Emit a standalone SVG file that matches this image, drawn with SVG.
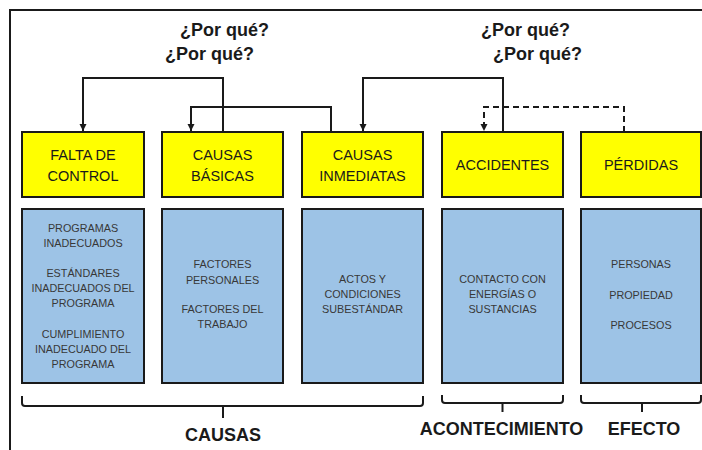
<svg xmlns="http://www.w3.org/2000/svg" width="702" height="450" viewBox="0 0 702 450">
<defs>
<style>
.head{fill:#ffff00;stroke:#1a1a1a;stroke-width:2}
.body{fill:#9dc3e6;stroke:#1a1a1a;stroke-width:2}
.ht{font-family:"Liberation Sans",Arial,sans-serif;font-size:14.5px;fill:#1a1a1a;text-anchor:middle}
.bt{font-family:"Liberation Sans",Arial,sans-serif;font-size:10.8px;fill:#383838;text-anchor:middle}
.q{font-family:"Liberation Sans",Arial,sans-serif;font-size:18px;font-weight:bold;fill:#1a1a1a}
.lab{font-family:"Liberation Sans",Arial,sans-serif;font-size:18px;font-weight:bold;fill:#1a1a1a;text-anchor:middle}
.c{fill:none;stroke:#1a1a1a;stroke-width:2}
.d{stroke-dasharray:6 4}
.br{fill:none;stroke:#1a1a1a;stroke-width:2;stroke-linejoin:round}
</style>
<marker id="ah" viewBox="0 0 10 10" refX="10" refY="5" markerWidth="3.6" markerHeight="3.6" orient="auto" markerUnits="strokeWidth">
<path d="M0,0 L10,5 L0,10 z" fill="#1a1a1a"/>
</marker>
</defs>
<rect width="702" height="450" fill="#ffffff"/>
<path d="M10,450 V10 H702" fill="none" stroke="#1a1a1a" stroke-width="2"/>

<g id="questions">
<text class="q" x="180" y="36">¿Por qué?</text>
<text class="q" x="165" y="60">¿Por qué?</text>
<text class="q" x="481" y="36">¿Por qué?</text>
<text class="q" x="493" y="60">¿Por qué?</text>
</g>

<g id="connectors">
<path class="c" d="M223,132 V78 H83 V131" marker-end="url(#ah)"/>
<path class="c" d="M331,132 V107 H191 V131" marker-end="url(#ah)"/>
<path class="c" d="M503,132 V78 H363 V131" marker-end="url(#ah)"/>
<path class="c d" d="M624,132 V107 H484 V131" marker-end="url(#ah)"/>
</g>

<g id="falta-de-control">
<rect class="head" x="22" y="132" width="122" height="65"/>
<text class="ht" x="83" y="160">FALTA DE</text>
<text class="ht" x="83" y="181">CONTROL</text>
<rect class="body" x="22" y="209" width="122" height="174"/>
<text class="bt" x="83" y="232">PROGRAMAS</text>
<text class="bt" x="83" y="247">INADECUADOS</text>
<text class="bt" x="83" y="277">ESTÁNDARES</text>
<text class="bt" x="83" y="292">INADECUADOS DEL</text>
<text class="bt" x="83" y="307">PROGRAMA</text>
<text class="bt" x="83" y="338">CUMPLIMIENTO</text>
<text class="bt" x="83" y="353">INADECUADO DEL</text>
<text class="bt" x="83" y="368">PROGRAMA</text>
</g>

<g id="causas-basicas">
<rect class="head" x="162" y="132" width="121" height="65"/>
<text class="ht" x="222.5" y="160">CAUSAS</text>
<text class="ht" x="222.5" y="181">BÁSICAS</text>
<rect class="body" x="162" y="209" width="121" height="174"/>
<text class="bt" x="222.5" y="268">FACTORES</text>
<text class="bt" x="222.5" y="284">PERSONALES</text>
<text class="bt" x="222.5" y="313">FACTORES DEL</text>
<text class="bt" x="222.5" y="328">TRABAJO</text>
</g>

<g id="causas-inmediatas">
<rect class="head" x="302" y="132" width="121" height="65"/>
<text class="ht" x="362.5" y="160">CAUSAS</text>
<text class="ht" x="362.5" y="181">INMEDIATAS</text>
<rect class="body" x="302" y="209" width="121" height="174"/>
<text class="bt" x="362.5" y="283">ACTOS Y</text>
<text class="bt" x="362.5" y="298">CONDICIONES</text>
<text class="bt" x="362.5" y="313">SUBESTÁNDAR</text>
</g>

<g id="accidentes">
<rect class="head" x="442" y="132" width="121" height="65"/>
<text class="ht" x="502.5" y="170">ACCIDENTES</text>
<rect class="body" x="442" y="209" width="121" height="174"/>
<text class="bt" x="502.5" y="283">CONTACTO CON</text>
<text class="bt" x="502.5" y="298">ENERGÍAS O</text>
<text class="bt" x="502.5" y="313">SUSTANCIAS</text>
</g>

<g id="perdidas">
<rect class="head" x="581" y="132" width="120" height="65"/>
<text class="ht" x="641" y="170">PÉRDIDAS</text>
<rect class="body" x="581" y="209" width="120" height="174"/>
<text class="bt" x="641" y="268">PERSONAS</text>
<text class="bt" x="641" y="299">PROPIEDAD</text>
<text class="bt" x="641" y="329">PROCESOS</text>
</g>

<g id="brackets">
<path class="br" d="M22,396 V403 Q22,406 25,406 H420 Q423,406 423,403 V396 M223,406 V418"/>
<path class="br" d="M442,395 V400 Q442,403 445,403 H560 Q563,403 563,400 V395 M502.5,403 V412"/>
<path class="br" d="M581,395 V400 Q581,403 584,403 H698 Q701,403 701,400 V395 M642,403 V412"/>
<text class="lab" x="223" y="441">CAUSAS</text>
<text class="lab" x="501.5" y="435">ACONTECIMIENTO</text>
<text class="lab" x="644" y="435">EFECTO</text>
</g>
</svg>
